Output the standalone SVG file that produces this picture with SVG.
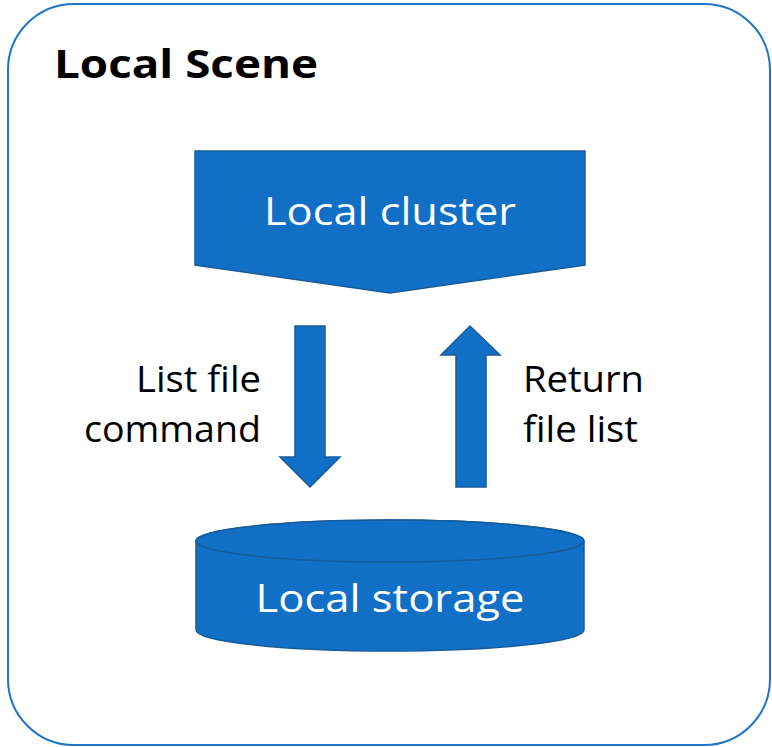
<svg xmlns="http://www.w3.org/2000/svg" width="772" height="747" viewBox="0 0 772 747">
<style>
.shape{fill:#1170C6;stroke:#175B99;stroke-width:1.5}
.w{fill:#fff;font-family:"Open Sans","Noto Sans",sans-serif;font-size:38px}
.k{fill:#000;font-family:"Open Sans","Noto Sans",sans-serif;font-size:37px}
</style>
<rect x="0" y="0" width="772" height="747" fill="#fff"/>
<g id="scene">
<rect x="8" y="4" width="762" height="741" rx="66" ry="66" fill="#fff" stroke="#1F74C8" stroke-width="2"/>
<text x="54" y="78" font-family="'Open Sans','Noto Sans',sans-serif" font-weight="bold" font-size="40" textLength="264" lengthAdjust="spacingAndGlyphs">Local Scene</text>
</g>
<g id="cluster">
<path class="shape" d="M195,151 H585 V265 L390,293 L195,265 Z"/>
<text class="w" x="390" y="225" text-anchor="middle" textLength="252" lengthAdjust="spacingAndGlyphs">Local cluster</text>
</g>
<g id="storage">
<path class="shape" d="M196,541 V630 A194,21 0 0 0 584,630 V541 A194,21 0 0 0 196,541 Z"/>
<ellipse class="shape" cx="390" cy="541" rx="194" ry="21"/>
<text class="w" x="390" y="612" text-anchor="middle" textLength="269" lengthAdjust="spacingAndGlyphs">Local storage</text>
</g>
<g id="connectors">
<path class="shape" d="M295,326 H325 V457 H340 L310,487 L280,457 H295 Z"/>
<path class="shape" d="M456,487 V355 H441 L470,326 L500,355 H486 V487 Z"/>
<text class="k" x="136" y="392" textLength="125" lengthAdjust="spacingAndGlyphs">List file</text>
<text class="k" x="84" y="442" textLength="177" lengthAdjust="spacingAndGlyphs">command</text>
<text class="k" x="523" y="392" textLength="121" lengthAdjust="spacingAndGlyphs">Return</text>
<text class="k" x="523" y="442" textLength="115" lengthAdjust="spacingAndGlyphs">file list</text>
</g>
</svg>
